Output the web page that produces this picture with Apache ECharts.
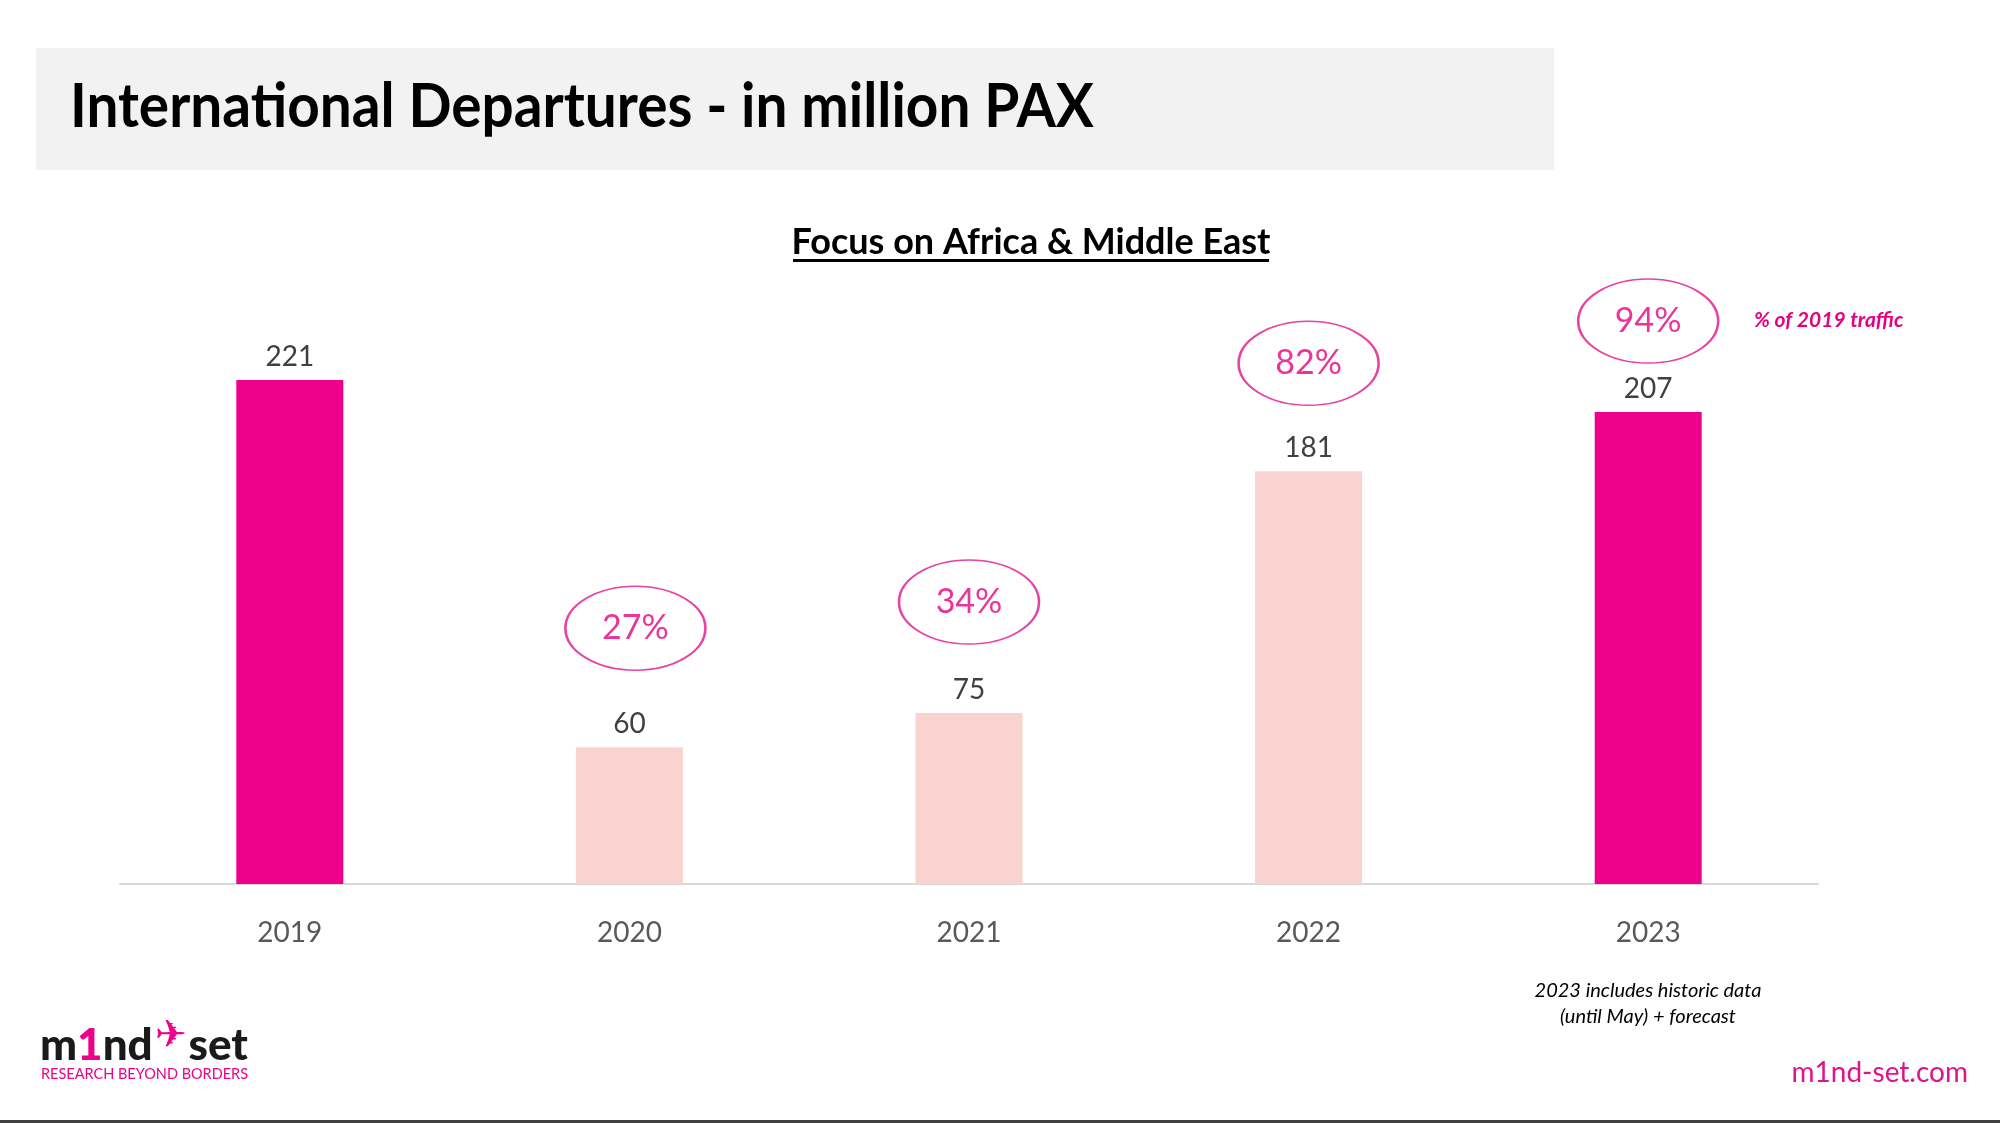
<!DOCTYPE html>
<html>
<head>
<meta charset="utf-8">
<script src="https://cdn.jsdelivr.net/npm/echarts@6/dist/echarts.min.js"></script>
<style>
html,body{margin:0;padding:0;background:#fff;}
#chart{width:2000px;height:1123px;}
</style>
</head>
<body>
<div id="chart"></div>
<script>
// ---- data ----
const years = ['2019', '2020', '2021', '2022', '2023'];
const departures = [221, 60, 75, 181, 207];
const baseYearIndex = 0;               // 2019 = reference year
const highlightYears = ['2019', '2023'];

// ---- derived ----
const pctOf2019 = departures.map(v => Math.round(v / departures[baseYearIndex] * 100) + '%');

const MAGENTA = '#EC008C';
const PINK = '#F8D3CF';
const ELLIPSE = 'path://M0,50 A50,50 0 1,1 100,50 A50,50 0 1,1 0,50 Z';
const ellipseOffsets = [[0, 0], [6, -119], [0, -111], [0, -108], [0, -91]];

const chart = echarts.init(document.getElementById('chart'));

const barData = departures.map((v, i) => ({
  value: v,
  itemStyle: { color: highlightYears.includes(years[i]) ? MAGENTA : PINK }
}));

const ellipseData = departures.map((v, i) => i === baseYearIndex ? null : ({
  value: [i, v],
  symbolOffset: ellipseOffsets[i],
  label: { formatter: pctOf2019[i] }
})).filter(d => d);

chart.setOption({
  backgroundColor: '#ffffff',
  animation: false,
  grid: { left: 120, right: 182, top: 314, bottom: 239 },
  xAxis: {
    type: 'category',
    data: years,
    axisLine: { lineStyle: { color: '#D9D9D9', width: 2 } },
    axisTick: { show: false },
    axisLabel: { color: '#595959', fontSize: 28, fontFamily: 'Lato', margin: 35 }
  },
  yAxis: {
    type: 'value', min: 0, max: 250,
    show: false, splitLine: { show: false }
  },
  series: [
    {
      type: 'bar',
      data: barData,
      barWidth: '31.5%',
      silent: true,
      label: {
        show: true, position: 'top', distance: 9,
        color: '#404040', fontSize: 28, fontFamily: 'Lato'
      }
    },
    {
      type: 'scatter',
      data: ellipseData,
      symbol: ELLIPSE,
      symbolSize: [140, 84],
      silent: true,
      z: 5,
      itemStyle: { color: 'rgba(0,0,0,0)', borderColor: '#E0148C', borderWidth: 2 },
      label: {
        show: true, position: 'inside',
        color: '#E6007E', fontSize: 34, fontFamily: 'Lato'
      }
    }
  ],
  graphic: [
    { type: 'rect', left: 36, top: 48, shape: { width: 1518, height: 122 }, style: { fill: '#F2F2F2' }, z: -10 },
    { type: 'text', left: 70, top: 76, scaleX: 0.915, style: { text: 'International Departures - in million PAX', font: 'bold 62px Lato', fill: '#000' } },
    { type: 'text', x: 1031, y: 242, style: { text: 'Focus on Africa & Middle East', font: 'bold 36px Lato', fill: '#000', align: 'center', verticalAlign: 'middle' } },
    { type: 'rect', left: 793, top: 259, shape: { width: 476, height: 3 }, style: { fill: '#000' } },
    { type: 'text', x: 1754, y: 320, style: { text: '% of 2019 traffic', font: 'italic bold 21px Lato', fill: '#E6007E', verticalAlign: 'middle' } },
    { type: 'text', x: 1648, y: 1004, style: { text: '2023 includes historic data\n(until May) + forecast', font: 'italic 20px Lato', fill: '#000', align: 'center', verticalAlign: 'middle', lineHeight: 26 } },
    { type: 'text', x: 1968, y: 1073, style: { text: 'm1nd-set.com', font: '28px Lato', fill: '#E0128C', align: 'right', verticalAlign: 'middle' } },
    { type: 'text', x: 40, y: 1046, style: {
        text: '{b|m}{p|1}{b|nd}{pl|✈}{b|set}',
        verticalAlign: 'middle',
        rich: {
          b: { font: '900 44px Lato', fill: '#1a1a1a' },
          p: { font: '900 44px Lato', fill: '#EC008C' },
          pl: { font: '38px DejaVu Sans', fill: '#EC008C', padding: [0, 2, 18, 2] }
        }
      } },
    { type: 'text', x: 41, y: 1074, style: { text: 'RESEARCH BEYOND BORDERS', font: '14.5px Lato', fill: '#EC008C', verticalAlign: 'middle' } },
    { type: 'rect', left: 0, top: 1120, shape: { width: 2000, height: 3 }, style: { fill: '#404040' } }
  ]
});
</script>
</body>
</html>
